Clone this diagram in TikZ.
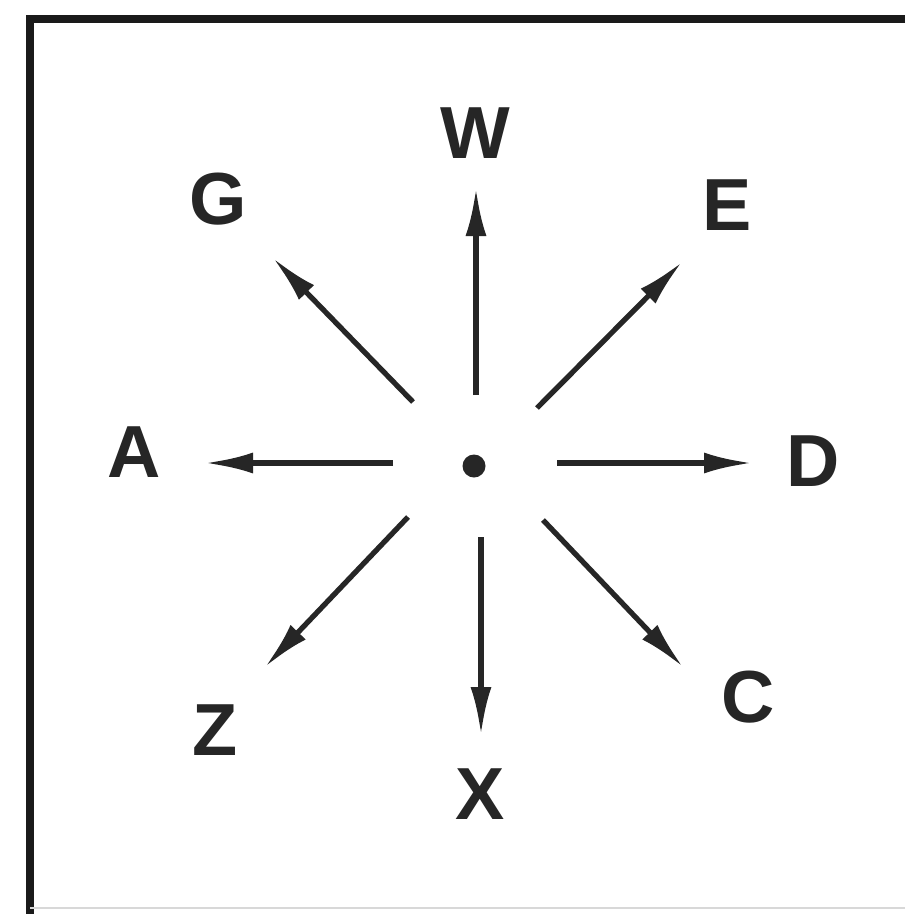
\documentclass[tikz,border=0pt]{standalone}
\usepackage{fontspec}
\setmainfont{Liberation Sans}
\usetikzlibrary{arrows.meta}
\definecolor{ink}{HTML}{262626}
\definecolor{frame}{HTML}{1A1A1A}
\definecolor{faint}{HTML}{D8D8D8}
\tikzset{
  lbl/.style={font=\fontsize{21}{21}\selectfont\bfseries,text=ink,inner sep=0pt,anchor=center},
  ray/.style={-{Latex[length=4.8mm,width=2.1mm]},line width=1.5pt,draw=ink},
  hub/.style={circle,fill=ink,draw=none,minimum size=2.3mm,inner sep=0pt},
  border/.style={line width=2pt,draw=frame}
}
\begin{document}
\begin{tikzpicture}[x=0.1mm,y=-0.1mm]
    \useasboundingbox (0,0) rectangle (905,914);
    \fill[white] (0,0) rectangle (905,914);
    % frame, open on the right
    \draw[border] (905,19) -- (30,19) -- (30,914);
    \draw[draw=faint,line width=0.5pt] (30,908) -- (905,908);

    \node[hub] (hub) at (474,466) {};
    % name / label centre / ray start / ray tip
    \foreach \n/\lx/\ly/\sx/\sy/\tx/\ty in {
        W/475/133/476/395/476/188,
        E/727/205/537/408/682/262,
        D/813/461/557/463/752/463,
        C/748/697/543/520/683/667,
        X/480/794/481/537/481/735,
        Z/215/730/408/517/265/667,
        A/134/452/393/463/205/463,
        G/218/199/413/402/273/258} {
      \node[lbl] (l\n) at (\lx,\ly) {\n};
      \coordinate (s\n) at (\sx,\sy);
      \coordinate (t\n) at (\tx,\ty);
      \draw[ray] (s\n) -- (t\n);
    }
\end{tikzpicture}
\end{document}
